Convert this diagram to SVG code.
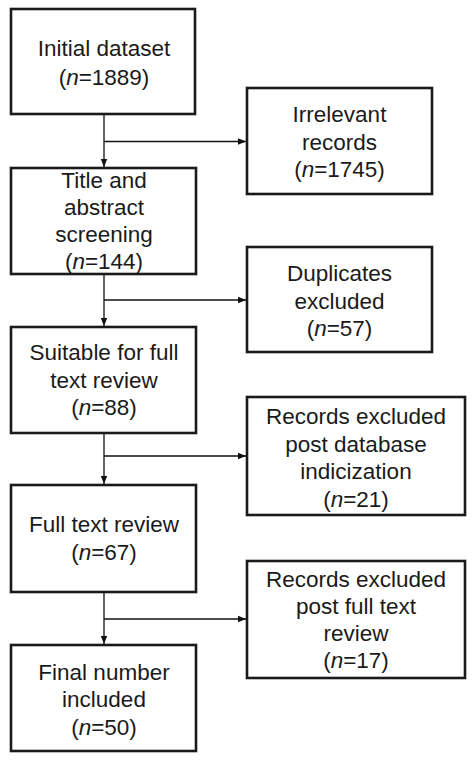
<svg xmlns="http://www.w3.org/2000/svg" width="474" height="760" viewBox="0 0 474 760">
<defs>
<marker id="ah" viewBox="0 0 10 10" refX="10" refY="5" markerWidth="8" markerHeight="8" markerUnits="userSpaceOnUse" orient="auto">
<path d="M0,1 L10,5 L0,9 Z" fill="#111"/>
</marker>
<style>
.box{fill:#fff;stroke:#1a1a1a;stroke-width:2.6}
.t{font-family:"Liberation Sans",Arial,sans-serif;font-size:22.5px;fill:#1a1a1a;text-anchor:middle}
.c{fill:none;stroke:#111;stroke-width:1.3}
.i{font-style:italic}
</style>
</defs>
<rect width="474" height="760" fill="#fff"/>
<g id="connectors">
<line class="c" x1="104" y1="114" x2="104" y2="167" marker-end="url(#ah)"/>
<line class="c" x1="104" y1="141.5" x2="246" y2="141.5" marker-end="url(#ah)"/>
<line class="c" x1="104" y1="274" x2="104" y2="326" marker-end="url(#ah)"/>
<line class="c" x1="104" y1="300" x2="246" y2="300" marker-end="url(#ah)"/>
<line class="c" x1="104" y1="433" x2="104" y2="484" marker-end="url(#ah)"/>
<line class="c" x1="104" y1="456" x2="246" y2="456" marker-end="url(#ah)"/>
<line class="c" x1="104" y1="592" x2="104" y2="644" marker-end="url(#ah)"/>
<line class="c" x1="104" y1="619" x2="246" y2="619" marker-end="url(#ah)"/>
</g>
<g id="initial">
<rect class="box" x="11" y="9" width="184" height="105"/>
<text class="t" x="104" y="56">Initial dataset</text>
<text class="t" x="104" y="85">(<tspan class="i">n</tspan>=1889)</text>
</g>
<g id="screening">
<rect class="box" x="11" y="168" width="185" height="106"/>
<text class="t" x="104" y="188">Title and</text>
<text class="t" x="104" y="215">abstract</text>
<text class="t" x="104" y="242">screening</text>
<text class="t" x="104" y="269">(<tspan class="i">n</tspan>=144)</text>
</g>
<g id="suitable">
<rect class="box" x="11" y="327" width="185" height="106"/>
<text class="t" x="104" y="360">Suitable for full</text>
<text class="t" x="104" y="388">text review</text>
<text class="t" x="104" y="415">(<tspan class="i">n</tspan>=88)</text>
</g>
<g id="fulltext">
<rect class="box" x="11" y="485" width="185" height="107"/>
<text class="t" x="104" y="532">Full text review</text>
<text class="t" x="104" y="560">(<tspan class="i">n</tspan>=67)</text>
</g>
<g id="final">
<rect class="box" x="11" y="645" width="185" height="106"/>
<text class="t" x="104" y="680">Final number</text>
<text class="t" x="104" y="707">included</text>
<text class="t" x="104" y="735">(<tspan class="i">n</tspan>=50)</text>
</g>
<g id="irrelevant">
<rect class="box" x="247" y="88" width="185" height="106"/>
<text class="t" x="339.5" y="122">Irrelevant</text>
<text class="t" x="339.5" y="150">records</text>
<text class="t" x="339.5" y="177">(<tspan class="i">n</tspan>=1745)</text>
</g>
<g id="duplicates">
<rect class="box" x="247" y="247" width="185" height="105"/>
<text class="t" x="339.5" y="281">Duplicates</text>
<text class="t" x="339.5" y="309">excluded</text>
<text class="t" x="339.5" y="336">(<tspan class="i">n</tspan>=57)</text>
</g>
<g id="excluded-db">
<rect class="box" x="247" y="397" width="218" height="118"/>
<text class="t" x="356" y="424">Records excluded</text>
<text class="t" x="356" y="452">post database</text>
<text class="t" x="356" y="479">indicization</text>
<text class="t" x="356" y="507">(<tspan class="i">n</tspan>=21)</text>
</g>
<g id="excluded-ft">
<rect class="box" x="247" y="561" width="218" height="117"/>
<text class="t" x="356" y="587">Records excluded</text>
<text class="t" x="356" y="614">post full text</text>
<text class="t" x="356" y="641">review</text>
<text class="t" x="356" y="668">(<tspan class="i">n</tspan>=17)</text>
</g>
</svg>
